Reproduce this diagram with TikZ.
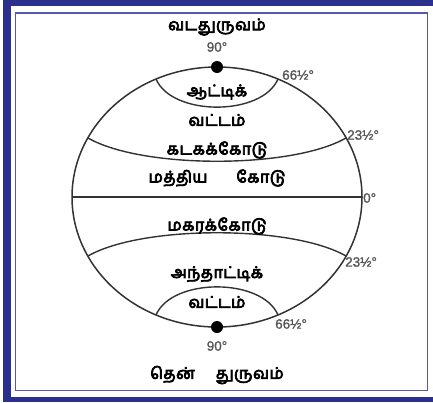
\documentclass[tikz,border=0pt]{standalone}
\usepackage{fontspec}
\setmainfont{Liberation Sans}
\newfontfamily\tamil[Script=Tamil,FakeBold=4.5,LetterSpace=3]{Hind Madurai}
\newfontfamily\degfont[FakeBold=1.2]{Liberation Sans}
\definecolor{framedark}{HTML}{2B2F8E}
\definecolor{framelight}{HTML}{5559AD}
\definecolor{lineink}{HTML}{333333}
\definecolor{degink}{HTML}{555555}
\begin{document}
\begin{tikzpicture}[x=1pt,y=-1pt,
  tlabel/.style={font=\tamil\fontsize{16}{18}\selectfont, text=black, inner sep=0pt},
  deg/.style={font=\degfont\fontsize{13.5}{15}\selectfont, text=degink, inner sep=0pt},
  globe/.style={draw=lineink, line width=1.5pt},
  lat/.style={draw=lineink, line width=1.4pt},
  pole/.style={circle, fill=black, minimum size=12pt, inner sep=0pt}]
\useasboundingbox (0,0) rectangle (433,402);
% frame
\fill[framedark] (3,0) rectangle (433,402);
\fill[white] (11,6) rectangle (433,397);
\draw[framelight, line width=1.5pt] (15.5,13) rectangle (427.5,390.5);
% globe
\coordinate (C) at (217,197);
\draw[globe] (C) ellipse [x radius=145, y radius=130];
% intersection points
\coordinate (arcL) at (156,79);  \coordinate (arcR) at (278,79);
\coordinate (cnL) at (88,138);   \coordinate (cnR) at (346,138);
\coordinate (eqL) at (72,197);   \coordinate (eqR) at (362,197);
\coordinate (cpL) at (88,256);   \coordinate (cpR) at (346,256);
\coordinate (antL) at (156,315); \coordinate (antR) at (278,315);
\draw[lat] (arcL) .. controls (172,116.5) and (262,116.5) .. (arcR);
\draw[lat] (cnL) .. controls (142,169) and (292,169) .. (cnR);
\draw[lat] (eqL) -- (eqR);
\draw[lat] (cpL) .. controls (142,225) and (292,225) .. (cpR);
\draw[lat] (antL) .. controls (172,277.5) and (262,277.5) .. (antR);
% poles
\node[pole] (np) at (217,67) {};
\node[pole] (sp) at (217,327) {};
% Tamil labels
\node[tlabel] (north) at (217,27) {வடதுருவம்};
\node[tlabel] (arc1) at (217,92) {ஆட்டிக்};
\node[tlabel] (arc2) at (217,120) {வட்டம்};
\node[tlabel] (cancer) at (217,150) {கடகக்கோடு};
\node[tlabel] (equator) at (217,178) {மத்திய\hspace{1.8em}கோடு};
\node[tlabel] (capri) at (217,226) {மகரக்கோடு};
\node[tlabel] (ant1) at (217,274) {அந்தாட்டிக்};
\node[tlabel] (ant2) at (217,302) {வட்டம்};
\node[tlabel] (south) at (217,375) {தென்\hspace{1.3em}துருவம்};
% degree labels
\node[deg] (d90n) at (217,47) {90°};
\node[deg, anchor=south west] (d66n) at (282,80) {66½°};
\node[deg, anchor=south west] (d23n) at (347,140) {23½°};
\node[deg, anchor=west] (d0) at (363,198) {0°};
\node[deg, anchor=west] (d23s) at (345,262) {23½°};
\node[deg, anchor=north west] (d66s) at (275,319) {66½°};
\node[deg] (d90s) at (217,346) {90°};
\end{tikzpicture}
\end{document}
